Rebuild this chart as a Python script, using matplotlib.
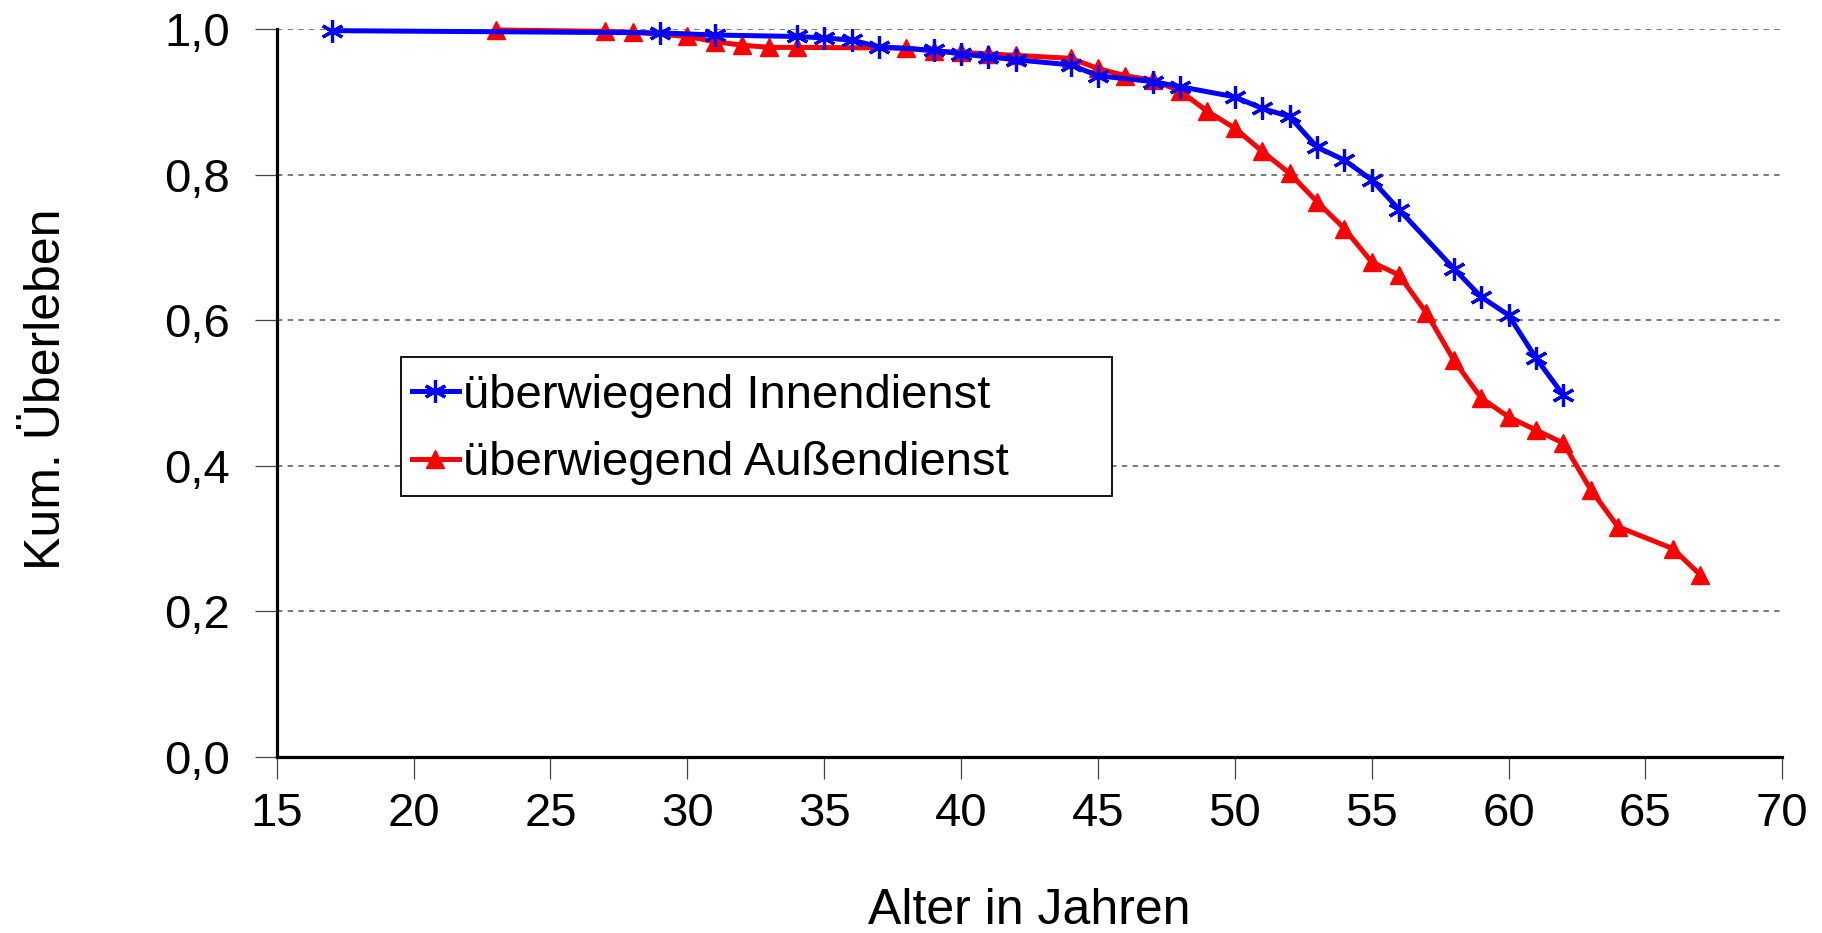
import matplotlib
matplotlib.use("Agg")
import matplotlib.pyplot as plt
from matplotlib.patches import Rectangle
from matplotlib.ticker import FuncFormatter

# Kaplan-Meier Kurven
innen_alter = [17, 29, 31, 34, 35, 36, 37, 39, 40, 41, 42, 44, 45, 47, 48,
               50, 51, 52, 53, 54, 55, 56, 58, 59, 60, 61, 62]
innen_surv = [0.998, 0.995, 0.992, 0.990, 0.988, 0.985, 0.976, 0.971, 0.966,
              0.962, 0.958, 0.951, 0.936, 0.928, 0.921, 0.907, 0.891, 0.880,
              0.838, 0.820, 0.793, 0.752, 0.671, 0.632, 0.607, 0.548, 0.497]

aussen_alter = [23, 27, 28, 30, 31, 32, 33, 34, 38, 39, 40, 41, 42, 44, 45,
                46, 47, 48, 49, 50, 51, 52, 53, 54, 55, 56, 57, 58, 59, 60,
                61, 62, 63, 64, 66, 67]
aussen_surv = [0.999, 0.997, 0.996, 0.990, 0.983, 0.978, 0.975, 0.975, 0.974,
               0.970, 0.968, 0.966, 0.964, 0.960, 0.946, 0.936, 0.930, 0.915,
               0.887, 0.864, 0.832, 0.802, 0.763, 0.726, 0.680, 0.662, 0.610,
               0.545, 0.493, 0.467, 0.449, 0.431, 0.367, 0.316, 0.286, 0.250]

x_ticks = [15, 20, 25, 30, 35, 40, 45, 50, 55, 60, 65, 70]
y_ticks = [0.0, 0.2, 0.4, 0.6, 0.8, 1.0]

plt.rcParams['font.family'] = ['Liberation Sans', 'DejaVu Sans']
FS = 34

fig = plt.figure(figsize=(18.22, 9.33), dpi=100)
ax = fig.add_axes([0.1519, 0.189, 0.8263, 0.7797])

ax.plot(aussen_alter, aussen_surv, color='#FF0000', lw=3.6, marker='^',
        markersize=13, clip_on=False, zorder=3,
        label='überwiegend Außendienst')
ax.plot(innen_alter, innen_surv, color='#0000FF', lw=3.6, marker=(6, 2, 0),
        markersize=16, markeredgewidth=2.3, clip_on=False, zorder=4,
        label='überwiegend Innendienst')

ax.set_xlim(15, 70)
ax.set_ylim(0, 1.0)
ax.set_xticks(x_ticks)
ax.set_yticks(y_ticks)
ax.yaxis.set_major_formatter(FuncFormatter(lambda v, p: f"{v:.1f}".replace('.', ',')))

for y in y_ticks[1:]:
    ax.axhline(y, color='#555555', lw=1.1, ls=(0, (3.5, 3.5)), zorder=1)

for s in ['top', 'right']:
    ax.spines[s].set_visible(False)
for s in ['left', 'bottom']:
    ax.spines[s].set_linewidth(2.3)
    ax.spines[s].set_color('black')

ax.tick_params(axis='both', direction='out', length=15.5, width=0.9,
               color='#444444', labelsize=FS)
ax.tick_params(axis='y', pad=18)
ax.tick_params(axis='x', pad=10)

fig.text(0.565, 0.0236, 'Alter in Jahren', fontsize=36, ha='center', va='center')
fig.text(0.026, 0.583, 'Kum. Überleben', fontsize=36, ha='center', va='center',
         rotation=90)

# Legendenrahmen wie im Original breiter als der Text
ax.add_patch(Rectangle((0.0826, 0.358), 0.4724, 0.1915, transform=ax.transAxes,
                       facecolor='white', edgecolor='black', lw=1.3, zorder=5))
handles, labels = ax.get_legend_handles_labels()
leg = ax.legend(handles[::-1], labels[::-1], loc='upper left',
                bbox_to_anchor=(0.0895, 0.5265), fontsize=FS, numpoints=1,
                handlelength=1.0, handletextpad=0.1, borderpad=0,
                labelspacing=0.5, borderaxespad=0, frameon=False)
leg.set_zorder(6)

fig.savefig('out.png', dpi=100)
